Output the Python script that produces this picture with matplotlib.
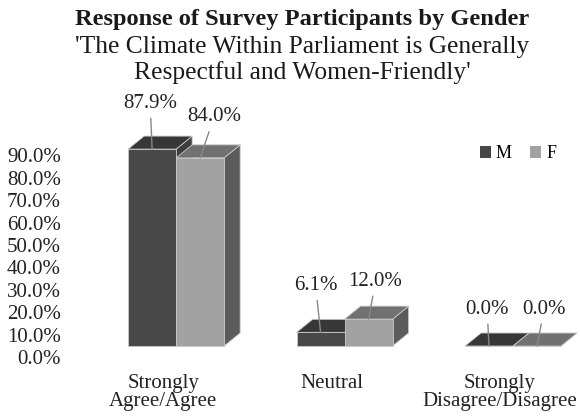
import matplotlib.pyplot as plt
import matplotlib.transforms as mtransforms
from matplotlib.patches import Polygon, Patch

categories = ["Strongly\nAgree/Agree", "Neutral", "Strongly\nDisagree/Disagree"]
male = [87.9, 6.1, 0.0]
female = [84.0, 12.0, 0.0]
yticks = [0, 10, 20, 30, 40, 50, 60, 70, 80, 90]

plt.rcParams["font.family"] = ["Liberation Serif", "DejaVu Serif"]

fig = plt.figure(figsize=(5.8, 4.18), dpi=100)
ax = fig.add_axes([70 / 580, 72 / 418, 502 / 580, 224 / 418])
ax.set_xlim(-0.63, 2.35)
ax.set_ylim(0, 100)

# fake 3d depth
w = 0.285
dx, dy = 0.095, 5.8
styles = {
    "M": dict(front="#484848", top="#373737", side="#3e3e3e"),
    "F": dict(front="#a2a2a2", top="#717171", side="#5b5b5b"),
}
edge = "#c8c8c8"


def bar3d(x0, h, st):
    side = [(x0 + w, 0), (x0 + w + dx, dy), (x0 + w + dx, h + dy), (x0 + w, h)]
    front = [(x0, 0), (x0 + w, 0), (x0 + w, h), (x0, h)]
    top = [(x0, h), (x0 + w, h), (x0 + w + dx, h + dy), (x0 + dx, h + dy)]
    for pts, c in ((side, st["side"]), (front, st["front"]), (top, st["top"])):
        ax.add_patch(Polygon(pts, closed=True, facecolor=c, edgecolor=edge,
                             lw=0.6, clip_on=False))


m_off = [(-2, 46), (-5, 47), (-2, 37)]
f_off = [(14, 41), (7, 38), (7, 37)]
for i in range(len(categories)):
    bar3d(i - w, male[i], styles["M"])
    bar3d(i, female[i], styles["F"])
    for x, v, off in ((i - w / 2, male[i], m_off[i]), (i + w / 2, female[i], f_off[i])):
        ax.annotate(f"{v:.1f}%", xy=(x, v), xytext=(off[0] * 0.72, off[1] * 0.72),
                    textcoords="offset points", ha="center", va="center",
                    fontsize=15, color="#222222",
                    arrowprops=dict(arrowstyle="-", color="#888888", lw=1.0,
                                    shrinkA=2, shrinkB=0))

ax.set_yticks(yticks)
ax.set_yticklabels([f"{t:.1f}%" for t in yticks], fontsize=15, color="#222222")
ax.tick_params(axis="y", length=0, pad=6.5)
shift = mtransforms.ScaledTranslation(0, -11 / 100, fig.dpi_scale_trans)
for lab in ax.get_yticklabels():
    lab.set_transform(lab.get_transform() + shift)

ax.set_xticks(range(len(categories)))
ax.set_xticklabels(categories, fontsize=15, color="#222222", linespacing=0.95)
ax.tick_params(axis="x", length=0, pad=20)
xshift = mtransforms.ScaledTranslation(-13 / 100, 0, fig.dpi_scale_trans)
for lab in ax.get_xticklabels():
    lab.set_transform(lab.get_transform() + xshift)

for s in ax.spines.values():
    s.set_visible(False)

handles = [Patch(facecolor=styles["M"]["front"], label="M"),
           Patch(facecolor=styles["F"]["front"], label="F")]
ax.legend(handles=handles, loc="center", bbox_to_anchor=(518 / 580, 1 - 154 / 418),
          bbox_transform=fig.transFigure, ncol=2, frameon=False, fontsize=13,
          handlelength=0.6, handleheight=0.6, handletextpad=0.3, columnspacing=1.0)

cx = 302 / 580
fig.text(cx, 1 - 25 / 418, "Response of Survey Participants by Gender",
         ha="center", va="baseline", fontsize=17.6, fontweight="bold", color="#1a1a1a")
fig.text(cx, 1 - 53 / 418, "'The Climate Within Parliament is Generally",
         ha="center", va="baseline", fontsize=18.4, color="#1a1a1a")
fig.text(cx, 1 - 79 / 418, "Respectful and Women-Friendly'",
         ha="center", va="baseline", fontsize=18.4, color="#1a1a1a")

fig.savefig("out.png", dpi=100, facecolor="white")
